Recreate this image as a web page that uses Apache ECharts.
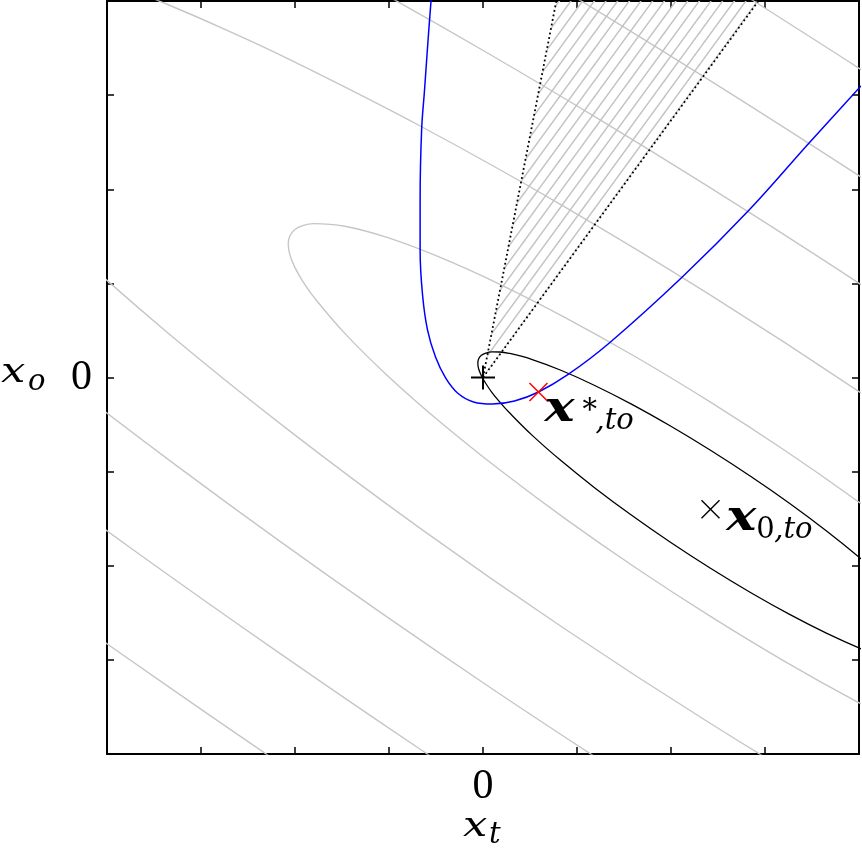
<!DOCTYPE html>
<html>
<head>
<meta charset="utf-8">
<script src="https://cdn.jsdelivr.net/npm/echarts@6/dist/echarts.min.js"></script>
<style>
html,body{margin:0;padding:0;background:#fff;}
#chart{width:862px;height:850px;}
</style>
</head>
<body>
<div id="chart"></div>
<script>
// ---------- data (data units) ----------
const axisMin = -4, axisMax = 4, tickStep = 1;
const labelledTicks = [0];

// constraint ellipse (black), centred on x0,to and passing through the origin
const blackEllipse = [[4.316,-2.185],[4.011,-1.917],[3.658,-1.633],[3.267,-1.341],[2.850,-1.052],[2.420,-0.773],[1.990,-0.513],[1.574,-0.280],[1.183,-0.082],[0.829,0.077],[0.524,0.191],[0.277,0.257],[0.177,0.271],[0.094,0.272],[0.030,0.260],[-0.017,0.236],[-0.046,0.200],[-0.055,0.151],[-0.046,0.090],[-0.017,0.019],[0.030,-0.064],[0.094,-0.157],[0.177,-0.259],[0.277,-0.370],[0.524,-0.615],[0.829,-0.883],[1.183,-1.168],[1.574,-1.459],[1.990,-1.748],[2.420,-2.027],[2.850,-2.287],[3.267,-2.520],[3.658,-2.719],[4.011,-2.877],[4.316,-2.991]];

// grey cost contours
const grayLevel1 = [[4.666,-1.822],[3.956,-1.293],[3.200,-0.768],[2.420,-0.262],[1.640,0.210],[0.884,0.632],[0.174,0.993],[-0.468,1.281],[-1.021,1.488],[-1.470,1.607],[-1.801,1.635],[-1.919,1.614],[-2.004,1.570],[-2.055,1.504],[-2.072,1.415],[-2.055,1.305],[-2.004,1.175],[-1.919,1.025],[-1.801,0.856],[-1.470,0.469],[-1.021,0.025],[-0.468,-0.462],[0.174,-0.978],[0.884,-1.507],[1.640,-2.032],[2.420,-2.538],[3.200,-3.010],[3.956,-3.432],[4.666,-3.793]];
const grayLevel2Upper = [[6.912,-2.244],[5.493,-1.187],[3.980,-0.136],[2.420,0.876],[0.860,1.819],[-0.653,2.664],[-2.072,3.386],[-2.733,3.694],[-3.355,3.963],[-3.933,4.191],[-4.462,4.376]];
const grayLevel2Lower = [[-5.361,2.338],[-4.462,1.450],[-3.355,0.476],[-2.072,-0.556],[-0.653,-1.613],[0.860,-2.664],[2.420,-3.676],[3.980,-4.619],[5.493,-5.464]];
const grayLevel3Upper = [[7.029,-1.080],[5.908,-0.288],[4.760,0.496],[3.595,1.265],[2.420,2.014],[1.246,2.737],[0.080,3.429],[-1.068,4.083],[-2.189,4.696]];
const grayLevel3Lower = [[-6.242,1.413],[-5.310,0.648],[-4.318,-0.134],[-3.275,-0.925],[-2.189,-1.720],[-1.068,-2.512],[0.080,-3.296],[1.246,-4.065],[2.420,-4.814]];
const grayLevel4Upper = [[7.070,0.083],[5.540,1.128],[3.986,2.153],[2.420,3.152],[0.854,4.116],[-0.700,5.038]];
const grayLevel4Lower = [[-7.887,1.330],[-6.564,0.288],[-5.173,-0.767],[-3.726,-1.827],[-2.230,-2.883],[-0.700,-3.928],[0.854,-4.953]];
const grayLevel5Upper = [[6.320,1.760],[5.351,2.404],[4.378,3.041],[3.399,3.671],[2.420,4.290],[1.441,4.898]];
const grayLevel5Lower = [[-7.072,-0.609],[-5.262,-1.934],[-4.334,-2.594],[-3.393,-3.253],[-2.441,-3.909],[-1.480,-4.560]];

// blue curve
const blueCurve = [[-0.549,4.05],[-0.579,3.660],[-0.622,3.054],[-0.653,2.630],[-0.669,1.886],[-0.669,1.355],[-0.643,0.876],[-0.590,0.504],[-0.505,0.218],[-0.398,-0.005],[-0.271,-0.165],[-0.101,-0.260],[0.101,-0.282],[0.335,-0.250],[0.590,-0.154],[0.898,0.027],[1.344,0.367],[2.120,1.068],[2.831,1.780],[3.469,2.492],[4.021,3.097]];

// hatched cone from the origin
const coneVertices = [[0,0],[0.78,4],[2.93,4]];
const coneLeftRay = [[0,0],[0.78,4]];
const coneRightRay = [[0,0],[2.93,4]];

// marked points
const originPoint = [0,0];
const x0Point = [2.42,-1.40];
const xStarPoint = [0.59,-0.154];

// ---------- styling ----------
const GRAY = '#c6c6c6';
const BOLD_X = 'italic bold 42px "DejaVu Serif"';
const SUB_IT = 'italic 29px "DejaVu Serif"';
const SUB_UP = '29px "DejaVu Serif"';

const markerDefs = [
  {p: originPoint, kind: 'plus', half: 12, color: '#000', w: 2},
  {p: x0Point, kind: 'cross', half: 9, color: '#000', w: 1.4},
  {p: xStarPoint, kind: 'cross', half: 9, color: '#ff0000', w: 1.5}
];
const labelDefs = [
  {p: xStarPoint, parts: [
    {t: 'x', font: BOLD_X, dx: 6, dy: 18.3, sx: 1.2},
    {t: '*', font: SUB_UP, dx: 44, dy: 19.8, sx: 1},
    {t: ',to', font: SUB_IT, dx: 57, dy: 29.3, sx: 1}
  ]},
  {p: x0Point, parts: [
    {t: 'x', font: BOLD_X, dx: 15.7, dy: 9.7, sx: 1.2},
    {t: '0', font: SUB_UP, dx: 45.7, dy: 20.7, sx: 1},
    {t: ',to', font: SUB_IT, dx: 63.7, dy: 20.7, sx: 1}
  ]}
];

function makeHatch() {
  const W = 35, H = 48;
  const c = document.createElement('canvas');
  c.width = W; c.height = H;
  const g = c.getContext('2d');
  g.strokeStyle = '#c2c2c2';
  g.lineWidth = 1.4;
  const r = W / H;
  for (let k = -3; k <= 3; k++) {
    const a = k * W / 3;
    g.beginPath();
    g.moveTo(a - 3 * r, H + 3);
    g.lineTo(a + W + 3 * r, -3);
    g.stroke();
  }
  return c;
}
const hatchCanvas = makeHatch();

const chart = echarts.init(document.getElementById('chart'), null, {renderer: 'canvas'});

function axisBase(position, withLabel, margin) {
  return {
    type: 'value', min: axisMin, max: axisMax, interval: tickStep, position: position,
    splitLine: {show: false},
    axisLine: {show: true, onZero: false, lineStyle: {color: '#000', width: 2}},
    axisTick: {show: true, inside: true, length: 7, lineStyle: {color: '#000', width: 1.5}},
    axisLabel: withLabel ? {
      show: true, margin: margin, color: '#000',
      fontFamily: '"Liberation Serif"', fontSize: 42, lineHeight: 42,
      formatter: v => labelledTicks.includes(v) ? String(v) : ''
    } : {show: false}
  };
}

const grayArcs = [grayLevel1, grayLevel2Upper, grayLevel2Lower, grayLevel3Upper, grayLevel3Lower,
                  grayLevel4Upper, grayLevel4Lower, grayLevel5Upper, grayLevel5Lower];

const series = [];
grayArcs.forEach(arc => series.push({
  type: 'line', data: arc, showSymbol: false, smooth: 0.4, clip: true, silent: true, z: 1,
  lineStyle: {color: GRAY, width: 1.4}
}));

series.push({
  type: 'custom', coordinateSystem: 'cartesian2d', data: coneVertices, clip: true, silent: true, z: 2,
  renderItem: (params, api) => {
    if (params.dataIndex !== 0) return null;
    return {
      type: 'polygon',
      shape: {points: coneVertices.map(v => api.coord(v))},
      style: {fill: {image: hatchCanvas, repeat: 'repeat'}, stroke: null}
    };
  }
});

[coneLeftRay, coneRightRay].forEach(ray => series.push({
  type: 'line', data: ray, showSymbol: false, clip: true, silent: true, z: 3,
  lineStyle: {color: '#000', width: 1.8, type: [1.8, 2.8]}
}));

series.push({
  type: 'line', data: blackEllipse, showSymbol: false, smooth: 0.4, clip: true, silent: true, z: 4,
  lineStyle: {color: '#000', width: 1.3}
});

series.push({
  type: 'line', data: blueCurve, showSymbol: false, smooth: 0.4, clip: true, silent: true, z: 5,
  lineStyle: {color: '#0000ff', width: 1.5}
});

series.push({
  type: 'custom', coordinateSystem: 'cartesian2d', data: markerDefs.map(m => m.p), silent: true, z: 6,
  renderItem: (params, api) => {
    const m = markerDefs[params.dataIndex];
    const c = api.coord([api.value(0), api.value(1)]);
    const h = m.half;
    const st = {stroke: m.color, lineWidth: m.w};
    const lines = m.kind === 'plus'
      ? [[c[0] - h, c[1], c[0] + h, c[1]], [c[0], c[1] - h, c[0], c[1] + h]]
      : [[c[0] - h, c[1] - h, c[0] + h, c[1] + h], [c[0] - h, c[1] + h, c[0] + h, c[1] - h]];
    return {type: 'group', children: lines.map(l => ({
      type: 'line', shape: {x1: l[0], y1: l[1], x2: l[2], y2: l[3]}, style: st
    }))};
  }
});

series.push({
  type: 'custom', coordinateSystem: 'cartesian2d', data: labelDefs.map(l => l.p), silent: true, z: 7,
  renderItem: (params, api) => {
    const L = labelDefs[params.dataIndex];
    const c = api.coord([api.value(0), api.value(1)]);
    return {type: 'group', children: L.parts.map(pt => ({
      type: 'text', x: c[0] + pt.dx, y: c[1] + pt.dy, scaleX: pt.sx,
      style: {text: pt.t, font: pt.font, fill: '#000', align: 'left', verticalAlign: 'middle'}
    }))};
  }
});

chart.setOption({
  animation: false,
  backgroundColor: '#fff',
  grid: {left: 107, top: 1, width: 753, height: 753, containLabel: false},
  xAxis: [axisBase('bottom', true, 12), axisBase('top', false, 0)],
  yAxis: [axisBase('left', true, 15), axisBase('right', false, 0)],
  series: series,
  graphic: [
    {type: 'text', x: 1, y: 373, scaleX: 1.2, silent: true,
     style: {text: 'x', font: 'italic 36px "DejaVu Serif"', fill: '#000', align: 'left', verticalAlign: 'middle'}},
    {type: 'text', x: 28, y: 382, silent: true,
     style: {text: 'o', font: 'italic 29px "DejaVu Serif"', fill: '#000', align: 'left', verticalAlign: 'middle'}},
    {type: 'text', x: 463, y: 827, scaleX: 1.2, silent: true,
     style: {text: 'x', font: 'italic 36px "DejaVu Serif"', fill: '#000', align: 'left', verticalAlign: 'middle'}},
    {type: 'text', x: 489, y: 835, silent: true,
     style: {text: 't', font: 'italic 29px "DejaVu Serif"', fill: '#000', align: 'left', verticalAlign: 'middle'}}
  ]
});
</script>
</body>
</html>
